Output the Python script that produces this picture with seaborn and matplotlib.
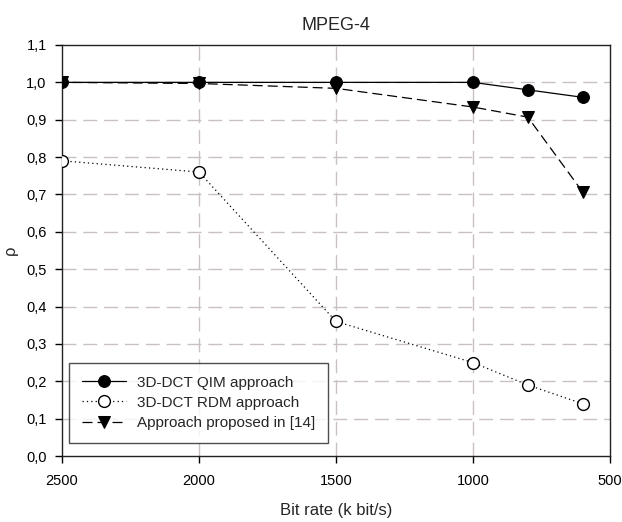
import matplotlib
matplotlib.use("Agg")
import matplotlib.pyplot as plt
import seaborn as sns
import pandas as pd
from matplotlib.ticker import FuncFormatter, MultipleLocator

bit_rates = [2500, 2000, 1500, 1000, 800, 600]
qim = [1.0, 1.0, 1.0, 1.0, 0.98, 0.96]
rdm = [0.79, 0.76, 0.36, 0.25, 0.19, 0.14]
proposed = [1.0, 0.997, 0.984, 0.934, 0.907, 0.707]
series_names = ["3D-DCT QIM approach", "3D-DCT RDM approach", "Approach proposed in [14]"]

sns.set_style("ticks")
plt.rcParams['font.family'] = ['Liberation Sans', 'DejaVu Sans']

fig = plt.figure(figsize=(6.22, 5.22), dpi=100)
ax = fig.add_axes([62/622, 1-456/522, (610-62)/622, (456-45)/522])

grid_c = "#c9c0c0"
ax.set_axisbelow(True)
for yv in [0.1*i for i in range(1, 11)]:
    ax.axhline(yv, color=grid_c, lw=1.0, dashes=(10, 5), zorder=0)
for xv in [2000, 1500, 1000]:
    ax.axvline(xv, color=grid_c, lw=1.0, dashes=(10, 5), zorder=0)

df_q = pd.DataFrame({"x": bit_rates, "y": qim})
df_r = pd.DataFrame({"x": bit_rates, "y": rdm})
df_p = pd.DataFrame({"x": bit_rates, "y": proposed})

sns.lineplot(data=df_r, x="x", y="y", ax=ax, color="black", lw=0.9, linestyle=(0, (1, 2.5)),
             marker="o", markersize=8.5, markerfacecolor="white", markeredgecolor="black",
             markeredgewidth=1.0, label=series_names[1], zorder=3)
sns.lineplot(data=df_p, x="x", y="y", ax=ax, color="black", lw=0.9, linestyle=(0, (8, 4)),
             marker="v", markersize=8.5, markerfacecolor="black", markeredgecolor="black",
             label=series_names[2], zorder=4)
sns.lineplot(data=df_q, x="x", y="y", ax=ax, color="black", lw=0.9, linestyle="-",
             marker="o", markersize=8.5, markerfacecolor="black", markeredgecolor="black",
             label=series_names[0], zorder=5)

ax.set_xlim(2500, 500)
ax.set_ylim(0, 1.1)
ax.set_xticks([2500, 2000, 1500, 1000, 500])
ax.yaxis.set_major_locator(MultipleLocator(0.1))
ax.yaxis.set_major_formatter(FuncFormatter(lambda v, p: f"{v:.1f}".replace(".", ",")))
ax.tick_params(direction="out", length=5, width=1, labelsize=10.5, colors="black", pad=6)
ax.tick_params(axis="x", pad=8)
for s in ax.spines.values():
    s.set_linewidth(1.0)
    s.set_color("#222222")
    s.set_visible(True)

ax.set_title("MPEG-4", fontsize=13, pad=11)
ax.set_xlabel("Bit rate (k bit/s)", fontsize=12, labelpad=11)
ax.set_ylabel("ρ", fontsize=12, labelpad=6)

h, l = ax.get_legend_handles_labels()
order = [l.index(n) for n in series_names]
leg = ax.legend([h[i] for i in order], [l[i] for i in order], loc="lower left",
                bbox_to_anchor=(0.0128, 0.032), borderaxespad=0, fontsize=11, frameon=True,
                fancybox=False, edgecolor="#222222", handlelength=2.9, handletextpad=0.7,
                borderpad=0.85, labelspacing=0.4)
leg.get_frame().set_linewidth(1.0)

fig.savefig("out.png", dpi=100)
